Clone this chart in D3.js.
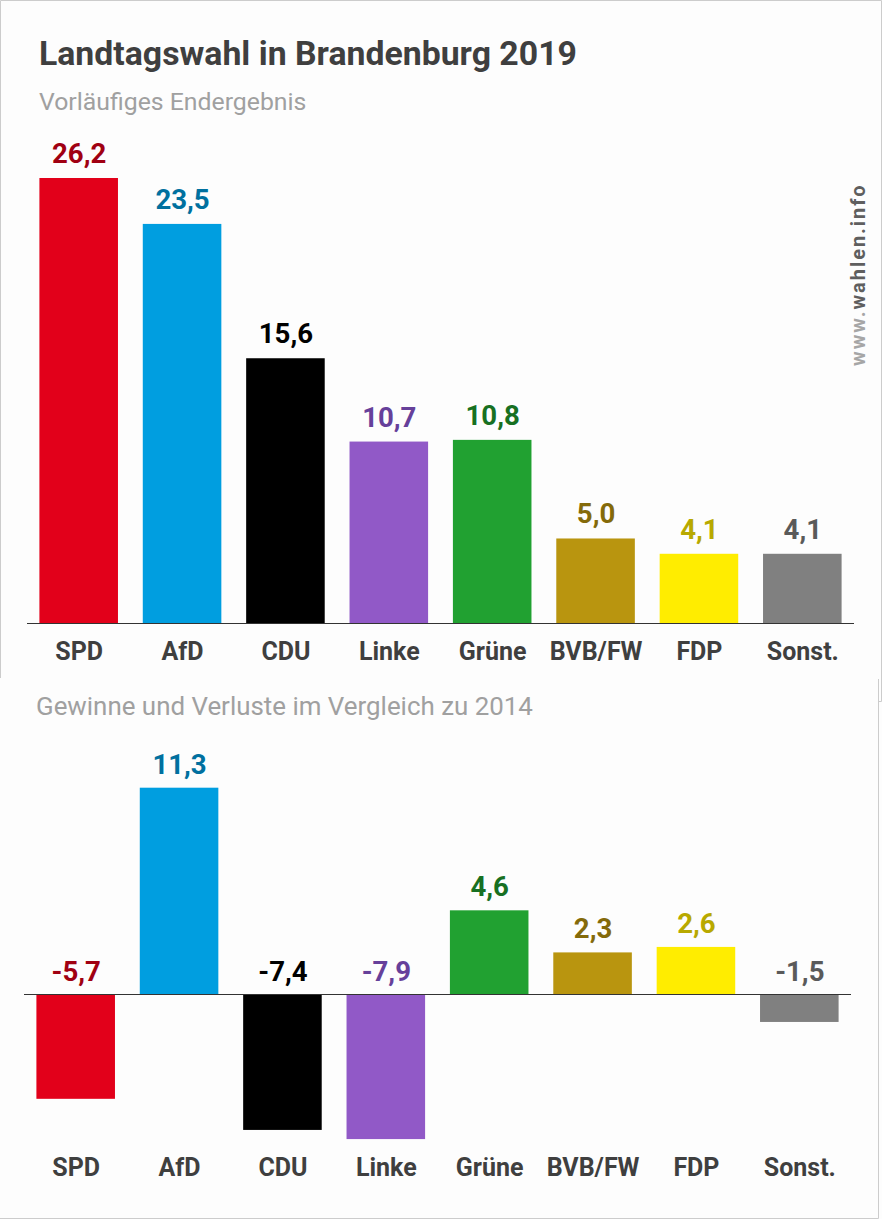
<!DOCTYPE html>
<html>
<head>
<meta charset="utf-8">
<script src="https://cdn.jsdelivr.net/npm/d3@7"></script>
<style>
  html, body { margin: 0; padding: 0; background: #fff; }
  svg { display: block; }
  text { font-family: Roboto, sans-serif; }
</style>
</head>
<body>
<div id="chart"></div>
<script>
var parties = ["SPD", "AfD", "CDU", "Linke", "Grüne", "BVB/FW", "FDP", "Sonst."];
var results = [26.2, 23.5, 15.6, 10.7, 10.8, 5.0, 4.1, 4.1];
var changes = [-5.7, 11.3, -7.4, -7.9, 4.6, 2.3, 2.6, -1.5];
var barColors = ["#e2001a", "#009ee0", "#000000", "#9159c7", "#21a131", "#b9950f", "#ffed00", "#808080"];
var labelColors = ["#a00012", "#00709f", "#000000", "#66409a", "#177022", "#846a0a", "#b8a900", "#5a5a5a"];

var width = 882, height = 1219;
var svg = d3.select("#chart").append("svg")
    .attr("width", width)
    .attr("height", height);

// background and the two panel borders
svg.append("rect").attr("width", width).attr("height", height).attr("fill", "#fdfdfd");
svg.append("path")
    .attr("d", "M0.5,678V0.5H881.5V701.5H878.5")
    .attr("fill", "none").attr("stroke", "#cccccc").attr("stroke-width", 1);
svg.append("path")
    .attr("d", "M878.5,679V1218.5H0")
    .attr("fill", "none").attr("stroke", "#cccccc").attr("stroke-width", 1);

svg.append("text").text("Landtagswahl in Brandenburg 2019")
    .attr("x", 39).attr("y", 65)
    .attr("fill", "#3f3f3f").attr("font-size", 33.8).attr("font-weight", 700);
svg.append("text").text("Vorläufiges Endergebnis")
    .attr("x", 39).attr("y", 110)
    .attr("fill", "#a0a0a0").attr("font-size", 24.8);
svg.append("text").text("Gewinne und Verluste im Vergleich zu 2014")
    .attr("x", 36).attr("y", 714.5)
    .attr("fill", "#a0a0a0").attr("font-size", 25.9);

// watermark
var mark = svg.append("text")
    .attr("transform", "translate(865,366) rotate(-90)")
    .attr("font-size", 20).attr("font-weight", 700)
    .attr("font-family", "'Liberation Sans', sans-serif")
    .attr("letter-spacing", 1.95);
mark.append("tspan").attr("fill", "#a6a6a6").text("www.");
mark.append("tspan").attr("fill", "#5f5f5f").text("wahlen.info");

function drawPanel(values, x0, baseline, yTop, yValue, nameY, labelGap) {
    var x = d3.scaleBand()
        .domain(parties)
        .range([x0, x0 + 827])
        .paddingInner(0.24)
        .paddingOuter(0.12);
    var y = d3.scaleLinear()
        .domain([0, yValue])
        .range([baseline, yTop]);

    var g = svg.append("g");

    g.selectAll(".bar")
        .data(values)
        .enter().append("rect")
        .attr("class", "bar")
        .attr("x", function(d, i) { return x(parties[i]); })
        .attr("y", function(d) { return Math.min(y(d), y(0)); })
        .attr("width", x.bandwidth())
        .attr("height", function(d) { return Math.abs(y(d) - y(0)); })
        .attr("fill", function(d, i) { return barColors[i]; });

    // labels of negative bars sit above the axis too
    g.selectAll(".value")
        .data(values)
        .enter().append("text")
        .attr("class", "value")
        .text(function(d) { return d3.format(".1f")(d).replace(".", ",").replace("−", "-"); })
        .attr("x", function(d, i) { return x(parties[i]) + x.bandwidth() / 2 + 0.5; })
        .attr("y", function(d) { return (d > 0 ? y(d) : y(0)) - labelGap; })
        .attr("text-anchor", "middle")
        .attr("font-size", 27.6).attr("font-weight", 700)
        .attr("fill", function(d, i) { return labelColors[i]; });

    g.append("line")
        .attr("x1", x0).attr("x2", x0 + 827)
        .attr("y1", y(0)).attr("y2", y(0))
        .attr("stroke", "#333333").attr("stroke-width", 1);

    var axis = d3.axisBottom(x).tickSize(0).tickPadding(0);
    var ax = g.append("g")
        .attr("transform", "translate(0.5," + nameY + ")")
        .call(axis);
    ax.select(".domain").remove();
    ax.selectAll("text")
        .attr("dy", 0).attr("y", 0)
        .attr("font-size", 25).attr("font-weight", 700)
        .attr("font-family", "Roboto, sans-serif")
        .attr("fill", "#3f3f3f");
}

// top bar 26.2 reaches y=178, AfD gain 11.3 reaches y=788
drawPanel(results, 27, 623.5, 178, 26.2, 660, 15);
drawPanel(changes, 24, 994.5, 787.7, 11.3, 1176, 14);
</script>
</body>
</html>
